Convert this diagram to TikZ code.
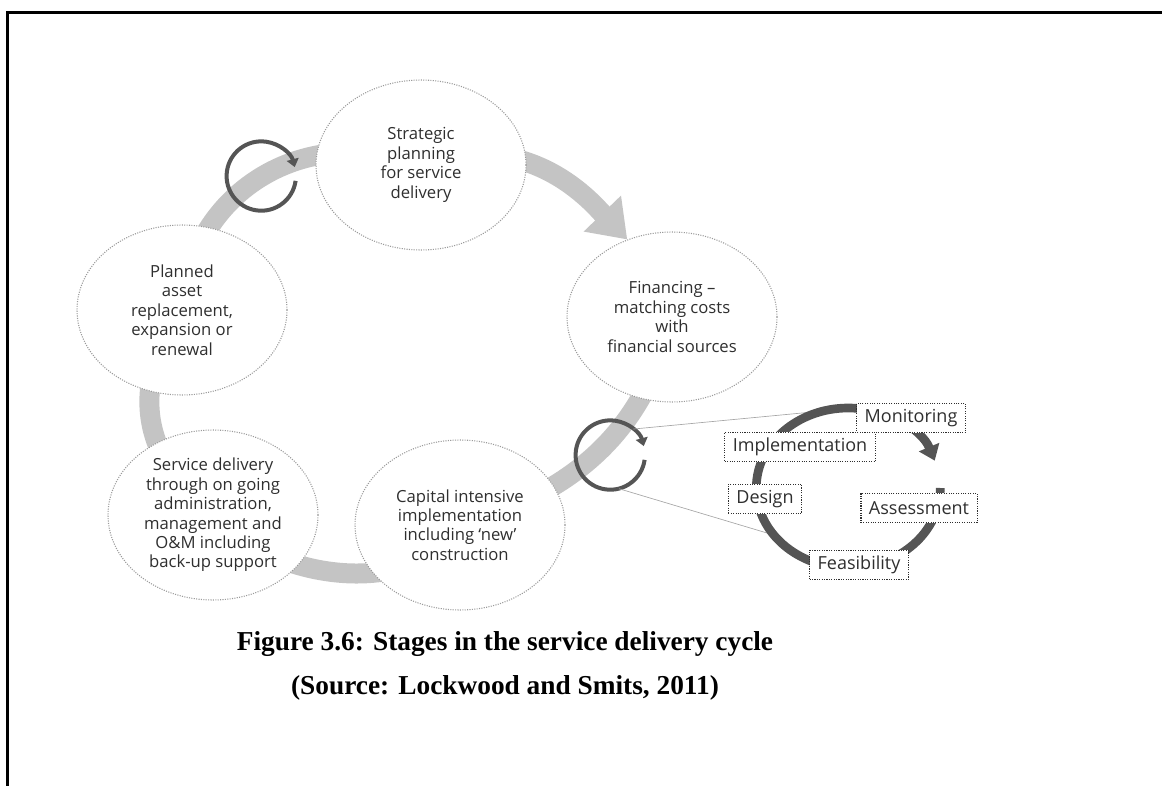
\documentclass[tikz,border=0pt]{standalone}
\usepackage{fontspec}
\setmainfont{Liberation Serif}
\newfontfamily\diagfont{Open Sans}
\usetikzlibrary{arrows.meta,backgrounds,shapes.geometric}

\definecolor{bandgray}{HTML}{C4C4C4}
\definecolor{rimgray}{HTML}{9A9A9A}
\definecolor{inkgray}{HTML}{2F2F2F}
\definecolor{loopgray}{HTML}{555555}

\tikzset{
  stage/.style={ellipse, draw=rimgray, densely dotted, line width=0.8pt, fill=white,
    minimum width=157.5pt, minimum height=127.5pt, inner sep=0pt, align=center,
    text=inkgray, font=\diagfont\fontsize{12.5}{14.6}\selectfont},
  band/.style={draw=bandgray, line width=15pt},
  loopring/.style={draw=loopgray, line width=3pt, -{Triangle[width=9pt,length=6pt]}},
  tag/.style={rectangle, draw=inkgray, densely dotted, line width=0.8pt, fill=white,
    inner xsep=6pt, minimum height=22pt, text=inkgray,
    font=\diagfont\fontsize{13.5}{15}\selectfont},
  zoomline/.style={draw=gray!70, line width=0.5pt}
}

\begin{document}
\begin{tikzpicture}[x=0.75pt,y=0.75pt]
  \useasboundingbox (0,0) rectangle (1162,786);
  % frame
  \draw[line width=2.25pt] (1162,773) -- (7,773) -- (7,0);

  % stages of the cycle
  \node[stage] (strat) at (421,621) {Strategic\\planning\\for service\\delivery};
  \node[stage] (fin) at (672,469) {Financing –\\matching costs\\with\\financial sources};
  \node[stage] (capital) at (460,261) {Capital intensive\\implementation\\including ‘new’\\construction};
  \node[stage] (serv) at (213,271) {Service delivery\\through on going\\administration,\\management and\\O\&M including\\back-up support};
  \node[stage] (plan) at (182,476) {Planned\\asset\\replacement,\\expansion or\\renewal};

  % the band behind the stages
  \begin{pgfonlayer}{background}
    \draw[band] (plan.center) .. controls (190,590) and (300,665) .. (strat.center);
    \draw[band, -{Triangle[width=37pt,length=27pt]}] (strat.center) .. controls (530,660) and (595,580) .. (fin.120);
    \draw[band] (fin.center) .. controls (650,380) and (600,300) .. (capital.center);
    \draw[band] (capital.center) .. controls (420,190) and (280,200) .. (serv.center);
    \draw[band] (serv.center) .. controls (140,330) and (130,400) .. (plan.center);
  \end{pgfonlayer}

  % small loops on the band
  \node[circle, minimum size=52pt, inner sep=0pt] (loopA) at (261,610) {};
  \draw[loopring] (loopA.-8) arc[start angle=-8, end angle=-345, radius=26pt];
  \node[circle, minimum size=52pt, inner sep=0pt] (loopB) at (610,331) {};
  \draw[loopring] (loopB.-8) arc[start angle=-8, end angle=-345, radius=26pt];

  % detail cycle
  \node[ellipse, minimum width=138pt, minimum height=120pt, inner sep=0pt] (cyc) at (848,298) {};
  \draw[zoomline] (loopB.48) -- (cyc.85);
  \draw[zoomline] (loopB.-75) -- (cyc.212);
  \draw[draw=loopgray, line width=6.5pt, -{Triangle[width=16pt,length=11pt]}]
    (cyc.east) arc[start angle=0, end angle=-340, x radius=69pt, y radius=60pt];

  \node[tag] (mon) at (911,368) {Monitoring};
  \node[tag] (impl) at (800,339) {Implementation};
  \node[tag] (des) at (765,287) {Design};
  \node[tag] (ass) at (919,278) {Assessment};
  \node[tag] (feas) at (859,221) {Feasibility};

  % caption
  \node[font=\bfseries\fontsize{20.5}{33}\selectfont, align=center] (caption) at (505,120)
    {Figure 3.6: Stages in the service delivery cycle\\(Source: Lockwood and Smits, 2011)};
\end{tikzpicture}
\end{document}
